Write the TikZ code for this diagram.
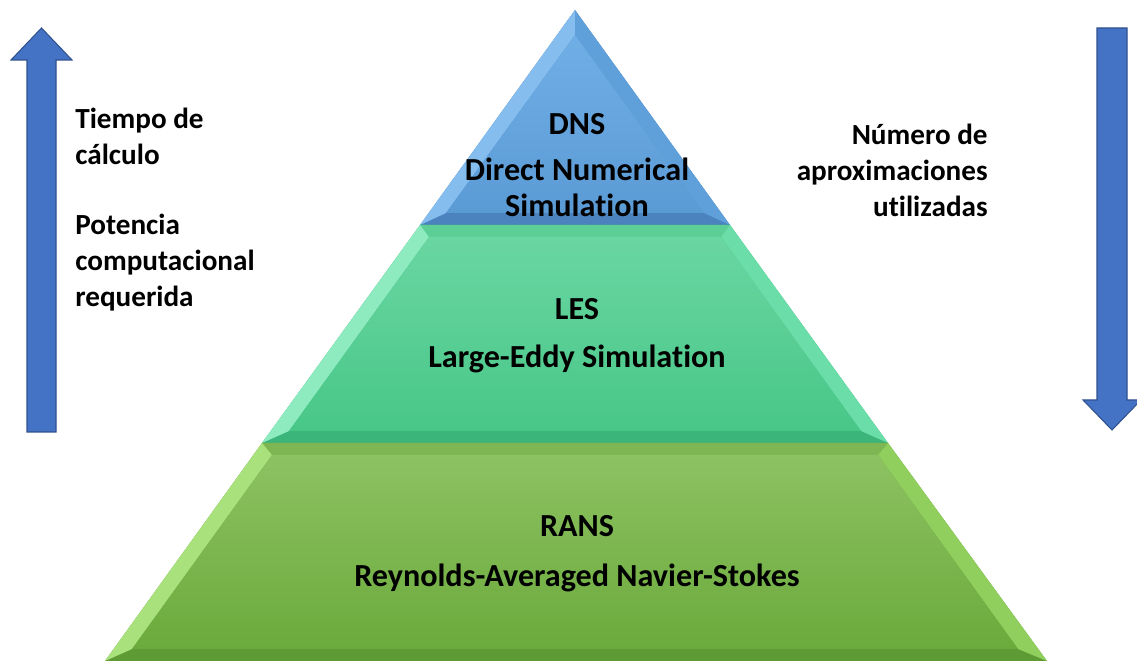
\documentclass[tikz,border=0pt]{standalone}
\usepackage{fontspec}
\setmainfont[Ligatures=NoCommon]{Carlito}
\definecolor{arrowblue}{HTML}{4472C4}
\definecolor{arrowedge}{HTML}{2F528F}
\definecolor{dnsTop}{HTML}{70AEE6}
\definecolor{dnsBot}{HTML}{5B9BD5}
\definecolor{dnsLeft}{HTML}{85BDEE}
\definecolor{dnsRight}{HTML}{5FA0DB}
\definecolor{dnsBase}{HTML}{4A83BE}
\definecolor{lesTop}{HTML}{6AD6A2}
\definecolor{lesBot}{HTML}{48C788}
\definecolor{lesLeft}{HTML}{8EEBC0}
\definecolor{lesRight}{HTML}{6ADDA8}
\definecolor{lesCap}{HTML}{5CCF97}
\definecolor{lesBase}{HTML}{3CB57A}
\definecolor{ransTop}{HTML}{8DC262}
\definecolor{ransBot}{HTML}{6BAA3C}
\definecolor{ransLeft}{HTML}{A9E27C}
\definecolor{ransRight}{HTML}{90CF5E}
\definecolor{ransCap}{HTML}{7DB652}
\definecolor{ransBase}{HTML}{5F9B35}
\begin{document}
\begin{tikzpicture}[x=0.02cm, y=-0.02cm,
    txt/.style={inner sep=0pt, font=\fontsize{18.3}{20.7}\selectfont\bfseries},
    side/.style={inner sep=0pt, font=\fontsize{16.6}{20.7}\selectfont\bfseries},
    bigarrow/.style={fill=arrowblue, draw=arrowedge, line width=0.6pt}]
      \useasboundingbox (0,0) rectangle (1137,661);
      %
      \draw[bigarrow] (27,432) -- (27,60) -- (11,60) -- (41.5,28) -- (72,60)
                      -- (56,60) -- (56,432) -- cycle;           % left arrow
      \draw[bigarrow] (1097,28) -- (1127,28) -- (1127,400) -- (1141,400)
                      -- (1112,430) -- (1083,400) -- (1097,400) -- cycle; % right arrow
      %
      % top tier
      \fill[dnsBase] (575,10) -- (420,225) -- (730,225) -- cycle;
      \fill[dnsLeft] (575,10) -- (575,35) -- (446,213) -- (420,225) -- cycle;
      \fill[dnsRight] (575,10) -- (575,35) -- (704,213) -- (730,225) -- cycle;
      \shade[top color=dnsTop, bottom color=dnsBot] (575,35) -- (446,213) -- (704,213) -- cycle;
      %
      % middle tier
      \fill[lesBase] (420,225) -- (730,225) -- (888,443) -- (262,443) -- cycle;
      \fill[lesCap] (420,225) -- (730,225) -- (721,237) -- (429,237) -- cycle;
      \fill[lesLeft] (420,225) -- (429,237) -- (289,431) -- (262,443) -- cycle;
      \fill[lesRight] (730,225) -- (721,237) -- (861,431) -- (888,443) -- cycle;
      \shade[top color=lesTop, bottom color=lesBot] (429,237) -- (721,237) -- (861,431) -- (289,431) -- cycle;
      %
      % bottom tier
      \fill[ransBase] (262,443) -- (888,443) -- (1047,661) -- (105,661) -- cycle;
      \fill[ransCap] (262,443) -- (888,443) -- (878,455) -- (272,455) -- cycle;
      \fill[ransLeft] (262,443) -- (272,455) -- (132,649) -- (105,661) -- cycle;
      \fill[ransRight] (888,443) -- (878,455) -- (1018,649) -- (1047,661) -- cycle;
      \shade[top color=ransTop, bottom color=ransBot] (272,455) -- (878,455) -- (1018,649) -- (132,649) -- cycle;
      %
      \node[txt, anchor=base] (dns) at (577,135) {DNS};           % tier labels
      \node[txt, anchor=base, align=center] (dnsname) at (577,217) {Direct Numerical\\Simulation};
      \node[txt, anchor=base] (les) at (577,320) {LES};
      \node[txt, anchor=base] (lesname) at (577,368) {Large-Eddy Simulation};
      \node[txt, anchor=base] (rans) at (577,537) {RANS};
      \node[txt, anchor=base] (ransname) at (577,587) {Reynolds-Averaged Navier-Stokes};
      %
      \node[side, align=left, anchor=base west] (tiempo) at (75,165) {Tiempo de\\cálculo};       % left side
      \node[side, align=left, anchor=base west] (potencia) at (75,307) {Potencia\\computacional\\requerida};
      \node[side, align=right, anchor=base east] (numero) at (988,217) {Número de\\aproximaciones\\utilizadas}; % right side
      %
    \end{tikzpicture}
\end{document}
